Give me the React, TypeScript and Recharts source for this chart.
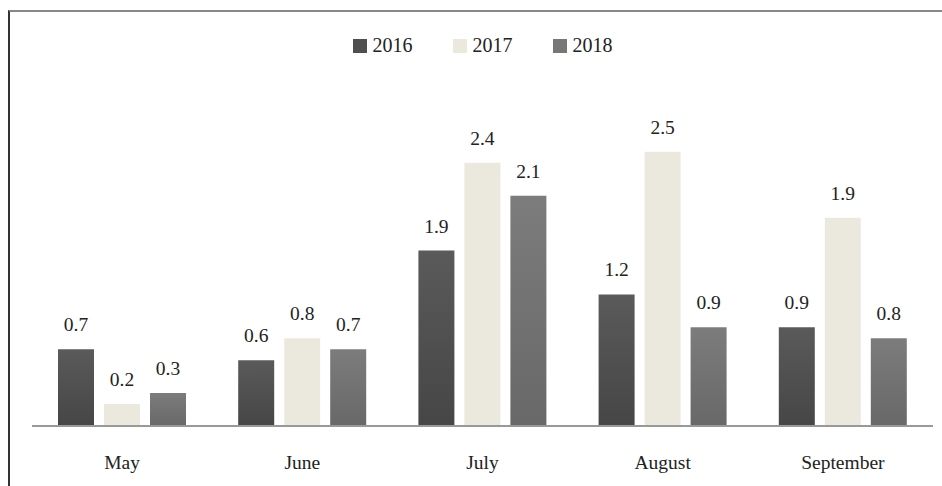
import { BarChart, Bar, XAxis, YAxis, Legend, LabelList } from "recharts";

const months = ["May", "June", "July", "August", "September"];
// bar heights as drawn in the picture (July 2016 is drawn lower than its label says)
const values2016 = [0.7, 0.6, 1.6, 1.2, 0.9];
const values2017 = [0.2, 0.8, 2.4, 2.5, 1.9];
const values2018 = [0.3, 0.7, 2.1, 0.9, 0.8];
// printed labels
const labels2016 = ["0.7", "0.6", "1.9", "1.2", "0.9"];
const labels2017 = ["0.2", "0.8", "2.4", "2.5", "1.9"];
const labels2018 = ["0.3", "0.7", "2.1", "0.9", "0.8"];

const series = [
  { key: "y2016", label: "l2016", name: "2016", color: "#4f4f4f", fill: "url(#g2016)" },
  { key: "y2017", label: "l2017", name: "2017", color: "#ebe9de", fill: "#ebe9de" },
  { key: "y2018", label: "l2018", name: "2018", color: "#777777", fill: "url(#g2018)" },
];

const data = months.map((m, i) => ({
  month: m,
  y2016: values2016[i],
  y2017: values2017[i],
  y2018: values2018[i],
  l2016: labels2016[i],
  l2017: labels2017[i],
  l2018: labels2018[i],
}));

const font = "Liberation Serif";

function LegendContent() {
  return (
    <div style={{ display: "flex", justifyContent: "center", gap: 40, fontFamily: font, fontSize: 20, color: "#222" }}>
      {series.map((s) => (
        <div key={s.key} style={{ display: "flex", alignItems: "center" }}>
          <span style={{ display: "inline-block", width: 14, height: 14, background: s.color, marginRight: 6 }} />
          <span>{s.name}</span>
        </div>
      ))}
    </div>
  );
}

export default function App() {
  return (
    <div style={{ position: "absolute", left: 0, top: 0, width: 942, height: 486, overflow: "hidden", background: "#fff" }}>
      <div
        style={{
          position: "absolute",
          left: 8,
          top: 10,
          width: 1000,
          height: 600,
          borderLeft: "2px solid #333",
          borderTop: "2px solid #888",
        }}
      />
      <div style={{ position: "absolute", left: 0, top: 0 }}>
        <BarChart
          width={942}
          height={486}
          data={data}
          margin={{ top: 34, right: 9, bottom: 0, left: 32 }}
          barSize={36}
          barGap={10}
        >
          <defs>
            <linearGradient id="g2016" x1="0" y1="0" x2="0" y2="1">
              <stop offset="0%" stopColor="#5a5a5a" />
              <stop offset="100%" stopColor="#464646" />
            </linearGradient>
            <linearGradient id="g2018" x1="0" y1="0" x2="0" y2="1">
              <stop offset="0%" stopColor="#7c7c7c" />
              <stop offset="100%" stopColor="#686868" />
            </linearGradient>
          </defs>
          <Legend verticalAlign="top" align="center" height={63} content={<LegendContent />} />
          <XAxis
            dataKey="month"
            height={60}
            tickLine={false}
            tickSize={0}
            tickMargin={29}
            axisLine={{ stroke: "#999", strokeWidth: 2 }}
            tick={{ fontFamily: font, fontSize: 19.5, fill: "#222" }}
          />
          <YAxis hide domain={[0, 3]} />
          {series.map((s) => (
            <Bar key={s.key} dataKey={s.key} name={s.name} fill={s.fill} isAnimationActive={false}>
              <LabelList
                dataKey={s.label}
                position="top"
                offset={18}
                style={{ fontFamily: font, fontSize: 19.5, fill: "#222" }}
              />
            </Bar>
          ))}
        </BarChart>
      </div>
    </div>
  );
}
